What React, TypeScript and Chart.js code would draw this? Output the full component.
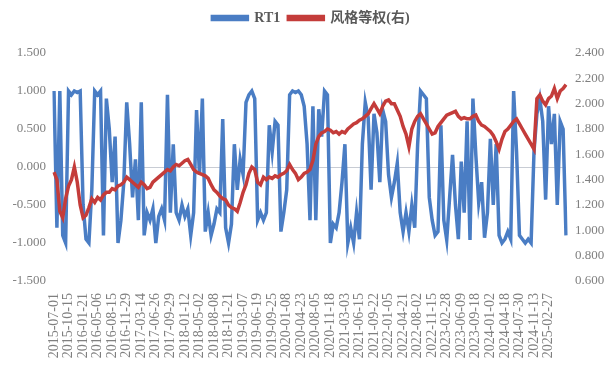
import React, { useEffect, useRef } from 'react';
import { Chart, registerables } from 'chart.js';

Chart.register(...registerables);

const tickLabels: string[] = [
  '2015-07-01', '2015-10-15', '2016-01-21', '2016-05-06', '2016-08-15', '2016-11-29',
  '2017-03-14', '2017-06-26', '2017-09-29', '2018-01-12', '2018-05-02', '2018-08-08',
  '2018-11-21', '2019-03-07', '2019-06-19', '2019-09-25', '2020-01-08', '2020-04-23',
  '2020-08-05', '2020-11-18', '2021-03-03', '2021-06-15', '2021-09-22', '2022-01-05',
  '2022-04-21', '2022-08-02', '2022-11-15', '2023-02-28', '2023-06-09', '2023-09-18',
  '2024-01-02', '2024-04-18', '2024-07-30', '2024-11-13', '2025-02-27',
];

const POINTS_PER_TICK = 5;

const rt1: number[] = [
  1.00, -0.80, 1.00, -0.90, -1.00, 1.00, 0.95, 1.00, 0.98, 1.00,
  -0.50, -0.95, -1.00, -0.30, 1.00, 0.95, 1.00, -0.90, 0.90, 0.50,
  -0.20, 0.40, -1.00, -0.70, -0.20, 0.85, 0.30, -0.40, 0.10, -0.70,
  0.85, -0.90, -0.60, -0.70, -0.55, -1.00, -0.65, -0.55, -0.70, 0.95,
  -0.60, 0.30, -0.60, -0.70, -0.50, -0.65, -0.55, -0.90, -0.60, 0.75,
  -0.10, 0.90, -0.85, -0.60, -0.90, -0.75, -0.55, -0.60, 0.63, -0.80,
  -1.00, -0.75, 0.30, -0.30, 0.10, -0.10, 0.85, 0.95, 1.00, 0.90,
  -0.70, -0.60, -0.70, -0.60, 0.55, 0.20, 0.60, 0.55, -0.85, -0.60,
  -0.30, 0.95, 1.00, 0.98, 1.00, 0.95, 0.80, 0.30, -0.70, 0.80,
  -0.70, 0.76, 0.40, 1.00, 0.95, -1.00, -0.75, -0.80, -0.60, -0.20,
  0.30, -1.00, -0.80, -1.00, -0.60, -0.95, 0.30, 0.85, 0.65, -0.30,
  0.70, 0.45, -0.20, 0.75, 0.60, -0.10, -0.40, -0.20, 0.05, -0.60,
  -0.85, -0.60, -0.85, -0.50, -0.80, 0.30, 1.00, 0.95, 0.90, -0.40,
  -0.70, -0.90, -0.85, 0.55, -0.70, -0.96, -0.40, 0.16, -0.50, -0.95,
  0.07, -0.60, 0.60, -0.96, 0.90, 0.16, -0.47, -0.20, -0.93, -0.60,
  0.37, -0.50, 0.30, -0.90, -1.00, -0.95, -0.85, -0.95, 1.00, 0.20,
  -0.90, -0.95, -1.00, -0.95, -1.00, 0.20, 0.70, 0.90, 0.60, -0.43,
  0.80, 0.30, 0.70, -0.50, 0.60, 0.50, -0.90,
];

const styleEqual: number[] = [
  1.46, 1.40, 1.15, 1.10, 1.25, 1.35, 1.40, 1.50, 1.38, 1.20,
  1.10, 1.12, 1.18, 1.25, 1.22, 1.26, 1.24, 1.28, 1.30, 1.30,
  1.33, 1.32, 1.35, 1.36, 1.38, 1.42, 1.40, 1.38, 1.36, 1.34,
  1.38, 1.36, 1.33, 1.34, 1.38, 1.40, 1.42, 1.44, 1.46, 1.48,
  1.47, 1.50, 1.52, 1.51, 1.53, 1.55, 1.56, 1.52, 1.48, 1.46,
  1.45, 1.44, 1.43, 1.41, 1.36, 1.32, 1.30, 1.27, 1.25, 1.24,
  1.20, 1.18, 1.17, 1.15, 1.22, 1.30, 1.36, 1.45, 1.50, 1.48,
  1.38, 1.36, 1.42, 1.40, 1.42, 1.41, 1.43, 1.42, 1.44, 1.45,
  1.47, 1.52, 1.48, 1.45, 1.40, 1.42, 1.45, 1.46, 1.48, 1.55,
  1.68, 1.74, 1.77, 1.78, 1.80, 1.79, 1.77, 1.78, 1.76, 1.78,
  1.77, 1.80, 1.82, 1.84, 1.85, 1.87, 1.88, 1.90, 1.92, 1.96,
  2.00, 1.96, 1.92, 1.98, 2.02, 2.03, 2.00, 2.00, 1.95, 1.90,
  1.82, 1.76, 1.66, 1.80, 1.86, 1.90, 1.92, 1.88, 1.84, 1.80,
  1.76, 1.77, 1.82, 1.85, 1.88, 1.91, 1.92, 1.93, 1.94, 1.90,
  1.88, 1.89, 1.88, 1.88, 1.90, 1.91, 1.86, 1.83, 1.82, 1.80,
  1.78, 1.75, 1.70, 1.64, 1.72, 1.78, 1.80, 1.83, 1.86, 1.88,
  1.84, 1.80, 1.76, 1.72, 1.68, 1.64, 2.04, 2.07, 2.02, 1.99,
  2.04, 2.06, 2.12, 2.04, 2.10, 2.12, 2.15,
];

const categories: string[] = rt1.map((_, i) =>
  i % POINTS_PER_TICK === 0 && i / POINTS_PER_TICK < tickLabels.length
    ? tickLabels[i / POINTS_PER_TICK]
    : ''
);

const FONT = "'Liberation Serif', 'Times New Roman', 'Noto Sans CJK SC', serif";
const BLUE = '#4a7dc4';
const RED = '#c43c3a';

const legendSpacer = {
  id: 'legendSpacer',
  afterInit(chart: any) {
    const legend = chart.legend;
    if (!legend) return;
    const origFit = legend.fit;
    legend.fit = function () {
      origFit.call(this);
      this.height += 18;
    };
  },
};

export default function App() {
  const ref = useRef<HTMLCanvasElement | null>(null);

  useEffect(() => {
    if (!ref.current) return;
    const chart = new Chart(ref.current, {
      type: 'line',
      plugins: [legendSpacer],
      data: {
        labels: categories,
        datasets: [
          {
            label: 'RT1',
            data: rt1,
            yAxisID: 'y',
            borderColor: BLUE,
            backgroundColor: BLUE,
            borderWidth: 3.5,
            pointRadius: 0,
            tension: 0,
            order: 1,
          },
          {
            label: '风格等权(右)',
            data: styleEqual,
            yAxisID: 'y1',
            borderColor: RED,
            backgroundColor: RED,
            borderWidth: 3.5,
            pointRadius: 0,
            tension: 0,
            order: 0,
          },
        ],
      },
      options: {
        responsive: false,
        animation: false,
        layout: { padding: { top: 3, left: 7, right: 0, bottom: 0 } },
        plugins: {
          legend: {
            display: true,
            position: 'top',
            labels: {
              boxWidth: 35,
              boxHeight: 3,
              padding: 8,
              color: '#595959',
              font: { family: FONT, size: 14, weight: 'bold' },
              sort: (a: any, b: any) => a.datasetIndex - b.datasetIndex,
            },
          },
          tooltip: { enabled: false },
        },
        scales: {
          x: {
            type: 'category',
            offset: false,
            grid: { display: false },
            border: { display: false },
            ticks: {
              autoSkip: false,
              maxRotation: 90,
              minRotation: 90,
              padding: 4,
              color: '#7f7f7f',
              font: { family: FONT, size: 14 },
            },
            afterFit: (scale: any) => {
              scale.height = 88;
            },
          },
          y: {
            position: 'left',
            min: -1.5,
            max: 1.5,
            border: { display: false },
            grid: {
              drawTicks: false,
              color: (ctx: any) =>
                ctx.tick && Math.abs(ctx.tick.value) < 1e-9 ? '#c8ccd4' : 'rgba(0,0,0,0)',
              lineWidth: 1,
            },
            ticks: {
              stepSize: 0.5,
              padding: 8,
              color: '#7f7f7f',
              font: { family: FONT, size: 13 },
              callback: (v: any) => Number(v).toFixed(3),
            },
            afterFit: (scale: any) => {
              scale.width = 47;
            },
          },
          y1: {
            position: 'right',
            min: 0.6,
            max: 2.4,
            border: { display: false },
            grid: { display: false, drawTicks: false },
            ticks: {
              stepSize: 0.2,
              padding: 9,
              color: '#7f7f7f',
              font: { family: FONT, size: 13 },
              callback: (v: any) => Number(v).toFixed(3),
            },
            afterFit: (scale: any) => {
              scale.width = 49;
            },
          },
        },
      },
    });
    return () => chart.destroy();
  }, []);

  return (
    <div style={{ position: 'absolute', left: 0, top: 0, width: 615, height: 369, background: '#fff' }}>
      <canvas ref={ref} width={615} height={369} style={{ display: 'block' }} />
    </div>
  );
}
